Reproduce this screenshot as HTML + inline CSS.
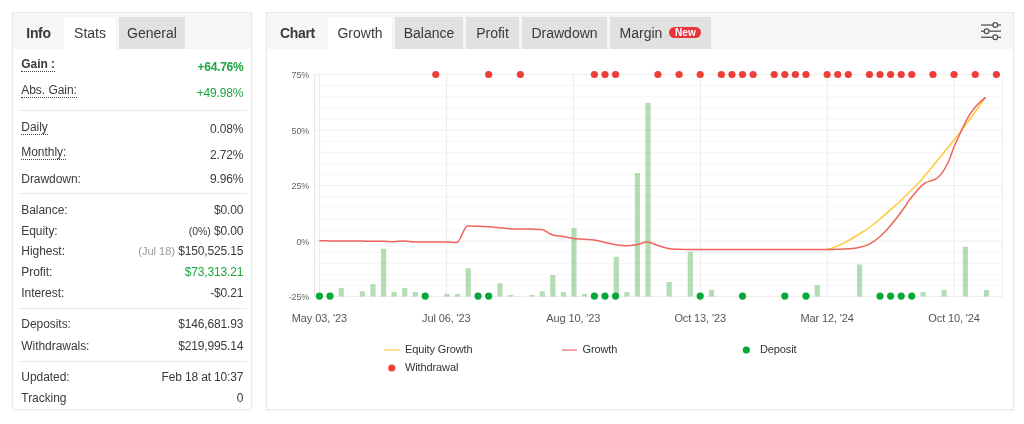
<!DOCTYPE html>
<html lang="en"><head><meta charset="utf-8"><title>Stats</title>
<style>
html,body{margin:0;padding:0;background:#fff;}
body{width:1024px;height:424px;position:relative;overflow:hidden;font-family:"Liberation Sans",Arial,sans-serif;color:#3a3a3a;}
.panel{position:absolute;background:#fff;border:1px solid #e9e9e9;box-sizing:border-box;box-shadow:0 1px 2px rgba(0,0,0,0.05);will-change:transform;}
#p1{left:12px;top:12px;width:240px;height:398px;}
#p2{left:266px;top:12px;width:748px;height:398px;}
.hd{position:absolute;left:0;top:0;right:0;height:36px;background:#f6f6f6;}
.tab{position:absolute;top:4px;height:32px;line-height:33px;font-size:14px;color:#3a3a3a;text-align:center;white-space:nowrap;}
.tab.t{font-weight:bold;letter-spacing:-0.35px;}
.tab.a{background:#fff;}
.tab.i{background:#e1e1e1;}
.l,.v{position:absolute;font-size:12px;line-height:16px;white-space:nowrap;color:#3a3a3a;}
.l{left:21px;}
.v{right:268px;}
#p1 .l{left:8.3px;letter-spacing:-0.05px;} #p1 .v{right:7.7px;letter-spacing:-0.15px;}
.b{font-weight:bold;}
.g{color:#18a63f !important;}
#p1 .v.b{letter-spacing:-0.28px;}
.u{border-bottom:1px dotted #444;height:15px;}
.sm{font-size:11px;letter-spacing:0;} .sm.p{font-size:10.5px;}
.gr{color:#999;}
.sep{position:absolute;left:6px;width:228px;height:1px;background:#e9e9e9;}
svg{position:absolute;left:0;top:0;will-change:transform;}
.yl{font-size:9px;letter-spacing:-0.2px;fill:#666;font-family:"Liberation Sans",Arial,sans-serif;}
.xl{font-size:11px;letter-spacing:-0.12px;fill:#555;font-family:"Liberation Sans",Arial,sans-serif;}
.lg{font-size:11px;letter-spacing:-0.12px;fill:#333;font-family:"Liberation Sans",Arial,sans-serif;}
.new{display:inline-block;vertical-align:middle;margin-left:7px;margin-top:-2px;background:#e8353c;color:#fff;font-weight:bold;font-size:10px;line-height:11.4px;height:11.4px;padding:0;width:32px;text-align:center;letter-spacing:0;border-radius:6px;position:relative;top:-0.5px;}
</style></head><body>
<div class="panel" id="p1">
<div class="hd"></div>
<div class="tab t" style="left:0;width:51px">Info</div>
<div class="tab a" style="left:51px;width:52px">Stats</div>
<div class="tab i" style="left:106px;width:66px">General</div>
<div class="sep" style="top:97px"></div><div class="sep" style="top:180px"></div><div class="sep" style="top:295px"></div><div class="sep" style="top:348px"></div>
<div class="l b u" style="top:43.00px">Gain :</div><div class="v b g" style="top:45.84px">+64.76%</div>
<div class="l u" style="top:69.00px">Abs. Gain:</div><div class="v g" style="top:72.14px">+49.98%</div>
<div class="l u" style="top:106.00px">Daily</div><div class="v " style="top:108.44px">0.08%</div>
<div class="l u" style="top:131.00px">Monthly:</div><div class="v " style="top:134.04px">2.72%</div>
<div class="l " style="top:157.94px">Drawdown:</div><div class="v " style="top:158.04px">9.96%</div>
<div class="l " style="top:188.84px">Balance:</div><div class="v " style="top:188.84px">$0.00</div>
<div class="l " style="top:209.84px">Equity:</div><div class="v " style="top:209.84px"><span class="sm p">(0%)</span> $0.00</div>
<div class="l " style="top:230.34px">Highest:</div><div class="v " style="top:230.34px"><span class="sm gr">(Jul 18)</span> $150,525.15</div>
<div class="l " style="top:251.34px">Profit:</div><div class="v g" style="top:251.34px">$73,313.21</div>
<div class="l " style="top:272.34px">Interest:</div><div class="v " style="top:272.34px">-$0.21</div>
<div class="l " style="top:303.44px">Deposits:</div><div class="v " style="top:303.44px">$146,681.93</div>
<div class="l " style="top:324.64px">Withdrawals:</div><div class="v " style="top:324.64px">$219,995.14</div>
<div class="l " style="top:355.84px">Updated:</div><div class="v " style="top:355.84px">Feb 18 at 10:37</div>
<div class="l " style="top:376.84px">Tracking</div><div class="v " style="top:376.84px">0</div>
</div>
<div class="panel" id="p2">
<div class="hd"></div>
<div class="tab t" style="left:0;width:61px">Chart</div>
<div class="tab a" style="left:61px;width:64px">Growth</div>
<div class="tab i" style="left:128px;width:68px">Balance</div>
<div class="tab i" style="left:199px;width:53px">Profit</div>
<div class="tab i" style="left:255px;width:85px">Drawdown</div>
<div class="tab i" style="left:343px;width:101px">Margin<span class="new">New</span></div>
</div>
<svg width="1024" height="424" viewBox="0 0 1024 424">
<line x1="314.5" x2="1002.5" y1="85.72" y2="85.72" stroke="#f6f6f6" stroke-width="1"/>
<line x1="314.5" x2="1002.5" y1="96.84" y2="96.84" stroke="#f6f6f6" stroke-width="1"/>
<line x1="314.5" x2="1002.5" y1="107.96" y2="107.96" stroke="#f6f6f6" stroke-width="1"/>
<line x1="314.5" x2="1002.5" y1="119.08" y2="119.08" stroke="#f6f6f6" stroke-width="1"/>
<line x1="314.5" x2="1002.5" y1="141.3" y2="141.3" stroke="#f6f6f6" stroke-width="1"/>
<line x1="314.5" x2="1002.5" y1="152.4" y2="152.4" stroke="#f6f6f6" stroke-width="1"/>
<line x1="314.5" x2="1002.5" y1="163.5" y2="163.5" stroke="#f6f6f6" stroke-width="1"/>
<line x1="314.5" x2="1002.5" y1="174.6" y2="174.6" stroke="#f6f6f6" stroke-width="1"/>
<line x1="314.5" x2="1002.5" y1="196.8" y2="196.8" stroke="#f6f6f6" stroke-width="1"/>
<line x1="314.5" x2="1002.5" y1="207.9" y2="207.9" stroke="#f6f6f6" stroke-width="1"/>
<line x1="314.5" x2="1002.5" y1="219.0" y2="219.0" stroke="#f6f6f6" stroke-width="1"/>
<line x1="314.5" x2="1002.5" y1="230.1" y2="230.1" stroke="#f6f6f6" stroke-width="1"/>
<line x1="314.5" x2="1002.5" y1="252.28" y2="252.28" stroke="#f6f6f6" stroke-width="1"/>
<line x1="314.5" x2="1002.5" y1="263.36" y2="263.36" stroke="#f6f6f6" stroke-width="1"/>
<line x1="314.5" x2="1002.5" y1="274.44" y2="274.44" stroke="#f6f6f6" stroke-width="1"/>
<line x1="314.5" x2="1002.5" y1="285.52" y2="285.52" stroke="#f6f6f6" stroke-width="1"/>
<line x1="314.5" x2="1002.5" y1="74.5" y2="74.5" stroke="#ededed" stroke-width="1"/>
<line x1="314.5" x2="1002.5" y1="130.1" y2="130.1" stroke="#ededed" stroke-width="1"/>
<line x1="314.5" x2="1002.5" y1="185.6" y2="185.6" stroke="#ededed" stroke-width="1"/>
<line x1="314.5" x2="1002.5" y1="241.1" y2="241.1" stroke="#ededed" stroke-width="1"/>
<line x1="314.5" x2="1002.5" y1="296.5" y2="296.5" stroke="#ededed" stroke-width="1"/>
<line x1="319.6" x2="319.6" y1="74.5" y2="296.5" stroke="#ededed" stroke-width="1"/>
<line x1="446.54" x2="446.54" y1="74.5" y2="296.5" stroke="#ededed" stroke-width="1"/>
<line x1="573.47" x2="573.47" y1="74.5" y2="296.5" stroke="#ededed" stroke-width="1"/>
<line x1="700.41" x2="700.41" y1="74.5" y2="296.5" stroke="#ededed" stroke-width="1"/>
<line x1="827.34" x2="827.34" y1="74.5" y2="296.5" stroke="#ededed" stroke-width="1"/>
<line x1="954.28" x2="954.28" y1="74.5" y2="296.5" stroke="#ededed" stroke-width="1"/>
<line x1="314.5" x2="314.5" y1="74.5" y2="296.5" stroke="#e6e6e6" stroke-width="1"/>
<line x1="1002.5" x2="1002.5" y1="74.5" y2="296.5" stroke="#ededed" stroke-width="1"/>
<rect x="338.66" y="288" width="5.2" height="8.50" fill="#4caf50" fill-opacity="0.42"/>
<rect x="359.81" y="291.25" width="5.2" height="5.25" fill="#4caf50" fill-opacity="0.42"/>
<rect x="370.39" y="284.25" width="5.2" height="12.25" fill="#4caf50" fill-opacity="0.42"/>
<rect x="380.97" y="248.75" width="5.2" height="47.75" fill="#4caf50" fill-opacity="0.42"/>
<rect x="391.55" y="292" width="5.2" height="4.50" fill="#4caf50" fill-opacity="0.42"/>
<rect x="402.12" y="288" width="5.2" height="8.50" fill="#4caf50" fill-opacity="0.42"/>
<rect x="412.70" y="292" width="5.2" height="4.50" fill="#4caf50" fill-opacity="0.42"/>
<rect x="444.44" y="294" width="5.2" height="2.50" fill="#4caf50" fill-opacity="0.42"/>
<rect x="455.01" y="294" width="5.2" height="2.50" fill="#4caf50" fill-opacity="0.42"/>
<rect x="465.59" y="268.25" width="5.2" height="28.25" fill="#4caf50" fill-opacity="0.42"/>
<rect x="497.33" y="283.25" width="5.2" height="13.25" fill="#4caf50" fill-opacity="0.42"/>
<rect x="507.90" y="295" width="5.2" height="1.50" fill="#4caf50" fill-opacity="0.42"/>
<rect x="529.06" y="295" width="5.2" height="1.50" fill="#4caf50" fill-opacity="0.42"/>
<rect x="539.64" y="291.25" width="5.2" height="5.25" fill="#4caf50" fill-opacity="0.42"/>
<rect x="550.22" y="275" width="5.2" height="21.50" fill="#4caf50" fill-opacity="0.42"/>
<rect x="560.79" y="292" width="5.2" height="4.50" fill="#4caf50" fill-opacity="0.42"/>
<rect x="571.37" y="228" width="5.2" height="68.50" fill="#4caf50" fill-opacity="0.42"/>
<rect x="581.95" y="294" width="5.2" height="2.50" fill="#4caf50" fill-opacity="0.42"/>
<rect x="613.68" y="256.75" width="5.2" height="39.75" fill="#4caf50" fill-opacity="0.42"/>
<rect x="624.26" y="292" width="5.2" height="4.50" fill="#4caf50" fill-opacity="0.42"/>
<rect x="634.84" y="173" width="5.2" height="123.50" fill="#4caf50" fill-opacity="0.42"/>
<rect x="645.42" y="103" width="5.2" height="193.50" fill="#4caf50" fill-opacity="0.42"/>
<rect x="666.57" y="282" width="5.2" height="14.50" fill="#4caf50" fill-opacity="0.42"/>
<rect x="687.73" y="251.75" width="5.2" height="44.75" fill="#4caf50" fill-opacity="0.42"/>
<rect x="708.89" y="290" width="5.2" height="6.50" fill="#4caf50" fill-opacity="0.42"/>
<rect x="814.67" y="285" width="5.2" height="11.50" fill="#4caf50" fill-opacity="0.42"/>
<rect x="856.98" y="264.5" width="5.2" height="32.00" fill="#4caf50" fill-opacity="0.42"/>
<rect x="920.45" y="292" width="5.2" height="4.50" fill="#4caf50" fill-opacity="0.42"/>
<rect x="941.60" y="290" width="5.2" height="6.50" fill="#4caf50" fill-opacity="0.42"/>
<rect x="962.76" y="246.75" width="5.2" height="49.75" fill="#4caf50" fill-opacity="0.42"/>
<rect x="983.91" y="290" width="5.2" height="6.50" fill="#4caf50" fill-opacity="0.42"/>
<path d="M827.14,249.50C830.67,249.50 834.20,247.37 837.72,245.90C841.25,244.43 844.77,242.63 848.30,240.70C851.83,238.77 855.35,236.50 858.88,234.30C862.40,232.10 865.93,230.05 869.46,227.50C872.98,224.95 876.51,221.97 880.03,219.00C883.56,216.03 887.09,212.83 890.61,209.70C894.14,206.57 897.66,203.53 901.19,200.20C904.72,196.87 908.24,193.28 911.77,189.70C915.29,186.12 918.82,182.65 922.35,178.70C925.87,174.75 929.40,170.27 932.92,166.00C936.45,161.73 939.98,157.43 943.50,153.10C947.03,148.77 950.55,144.50 954.08,140.00C957.61,135.50 961.13,130.82 964.66,126.10C968.18,121.38 971.71,116.59 975.24,111.70C978.66,106.95 982.08,102.03 985.50,97.20" fill="none" stroke="#fcca3a" stroke-width="1.5"/>
<path d="M319.40,240.75C322.93,240.80 326.45,240.86 329.98,240.90C333.50,240.94 337.03,241.00 340.56,241.00C344.08,241.00 347.61,241.00 351.13,241.00C354.66,241.00 358.19,241.07 361.71,241.10C365.24,241.13 368.76,241.17 372.29,241.20C375.82,241.22 379.34,241.20 382.87,241.25C386.39,241.30 389.92,241.70 393.45,241.70C396.97,241.70 400.50,241.00 404.02,241.00C407.55,241.00 411.08,242.00 414.60,242.00C418.13,242.00 421.65,242.00 425.18,242.00C428.71,242.00 432.23,242.00 435.76,242.00C439.28,242.00 442.81,242.00 446.34,242.00C449.86,242.00 453.39,242.50 456.91,242.50C460.44,242.50 463.97,226.00 467.49,226.00C471.02,226.00 474.54,226.12 478.07,226.25C481.60,226.38 485.12,226.56 488.65,226.80C492.17,227.04 495.70,227.38 499.23,227.70C502.75,228.02 506.28,228.48 509.80,228.70C513.33,228.92 516.86,228.93 520.38,229.00C523.91,229.07 527.43,229.03 530.96,229.10C534.49,229.17 538.01,229.10 541.54,229.40C545.06,229.70 548.59,233.62 552.12,234.80C555.64,235.98 559.17,235.88 562.69,236.50C566.22,237.12 569.75,238.05 573.27,238.50C576.80,238.95 580.32,238.95 583.85,239.20C587.38,239.45 590.90,239.45 594.43,240.00C597.95,240.55 601.48,241.72 605.01,242.50C608.53,243.28 612.06,244.17 615.58,244.70C619.11,245.23 622.64,245.70 626.16,245.70C629.69,245.70 633.21,245.32 636.74,244.70C640.27,244.08 643.79,242.00 647.32,242.00C650.84,242.00 654.37,244.42 657.90,245.50C661.42,246.58 664.95,247.87 668.47,248.50C672.00,249.13 675.53,249.13 679.05,249.30C682.58,249.47 686.10,249.50 689.63,249.50C693.16,249.50 696.68,249.50 700.21,249.50C703.73,249.50 707.26,249.50 710.79,249.50C714.31,249.50 717.84,249.50 721.36,249.50C724.89,249.50 728.42,249.50 731.94,249.50C735.47,249.50 738.99,249.50 742.52,249.50C746.05,249.50 749.57,249.50 753.10,249.50C756.62,249.50 760.15,249.50 763.68,249.50C767.20,249.50 770.73,249.50 774.25,249.50C777.78,249.50 781.31,249.50 784.83,249.50C788.36,249.50 791.88,249.50 795.41,249.50C798.94,249.50 802.46,249.50 805.99,249.50C809.51,249.50 813.04,249.50 816.57,249.50C820.09,249.50 823.62,249.50 827.14,249.50C830.67,249.50 834.20,249.42 837.72,249.30C841.25,249.18 844.77,249.10 848.30,248.80C851.83,248.50 855.35,248.28 858.88,247.50C862.40,246.72 865.93,245.93 869.46,244.10C872.98,242.27 876.51,239.60 880.03,236.50C883.56,233.40 887.09,229.58 890.61,225.50C894.14,221.42 897.66,216.77 901.19,212.00C904.63,207.35 908.06,201.66 911.50,197.30C913.27,195.06 915.03,193.00 916.80,191.00C918.53,189.04 920.27,186.91 922.00,185.40C923.30,184.27 924.60,183.32 925.90,182.60C927.47,181.73 929.03,181.46 930.60,180.90C932.20,180.33 933.80,180.15 935.40,179.20C936.57,178.51 937.73,177.63 938.90,176.50C940.07,175.37 941.23,174.04 942.40,172.40C943.60,170.72 944.80,168.74 946.00,166.50C947.17,164.32 948.33,161.97 949.50,159.20C950.93,155.80 952.37,151.11 953.80,147.50C956.07,141.78 958.33,137.39 960.60,132.50C962.80,127.76 965.00,122.59 967.20,118.60C970.33,112.92 973.47,109.12 976.60,105.50C979.57,102.07 982.53,99.97 985.50,97.20" fill="none" stroke="#ef655c" stroke-width="1.5"/>
<circle cx="435.76" cy="74.5" r="3.6" fill="#ed3f38"/>
<circle cx="488.65" cy="74.5" r="3.6" fill="#ed3f38"/>
<circle cx="520.38" cy="74.5" r="3.6" fill="#ed3f38"/>
<circle cx="594.43" cy="74.5" r="3.6" fill="#ed3f38"/>
<circle cx="605.01" cy="74.5" r="3.6" fill="#ed3f38"/>
<circle cx="615.58" cy="74.5" r="3.6" fill="#ed3f38"/>
<circle cx="657.90" cy="74.5" r="3.6" fill="#ed3f38"/>
<circle cx="679.05" cy="74.5" r="3.6" fill="#ed3f38"/>
<circle cx="700.21" cy="74.5" r="3.6" fill="#ed3f38"/>
<circle cx="721.36" cy="74.5" r="3.6" fill="#ed3f38"/>
<circle cx="731.94" cy="74.5" r="3.6" fill="#ed3f38"/>
<circle cx="742.52" cy="74.5" r="3.6" fill="#ed3f38"/>
<circle cx="753.10" cy="74.5" r="3.6" fill="#ed3f38"/>
<circle cx="774.25" cy="74.5" r="3.6" fill="#ed3f38"/>
<circle cx="784.83" cy="74.5" r="3.6" fill="#ed3f38"/>
<circle cx="795.41" cy="74.5" r="3.6" fill="#ed3f38"/>
<circle cx="805.99" cy="74.5" r="3.6" fill="#ed3f38"/>
<circle cx="827.14" cy="74.5" r="3.6" fill="#ed3f38"/>
<circle cx="837.72" cy="74.5" r="3.6" fill="#ed3f38"/>
<circle cx="848.30" cy="74.5" r="3.6" fill="#ed3f38"/>
<circle cx="869.46" cy="74.5" r="3.6" fill="#ed3f38"/>
<circle cx="880.03" cy="74.5" r="3.6" fill="#ed3f38"/>
<circle cx="890.61" cy="74.5" r="3.6" fill="#ed3f38"/>
<circle cx="901.19" cy="74.5" r="3.6" fill="#ed3f38"/>
<circle cx="911.77" cy="74.5" r="3.6" fill="#ed3f38"/>
<circle cx="932.92" cy="74.5" r="3.6" fill="#ed3f38"/>
<circle cx="954.08" cy="74.5" r="3.6" fill="#ed3f38"/>
<circle cx="975.24" cy="74.5" r="3.6" fill="#ed3f38"/>
<circle cx="996.39" cy="74.5" r="3.6" fill="#ed3f38"/>
<circle cx="319.40" cy="296.1" r="3.6" fill="#07a83a"/>
<circle cx="329.98" cy="296.1" r="3.6" fill="#07a83a"/>
<circle cx="425.18" cy="296.1" r="3.6" fill="#07a83a"/>
<circle cx="478.07" cy="296.1" r="3.6" fill="#07a83a"/>
<circle cx="488.65" cy="296.1" r="3.6" fill="#07a83a"/>
<circle cx="594.43" cy="296.1" r="3.6" fill="#07a83a"/>
<circle cx="605.01" cy="296.1" r="3.6" fill="#07a83a"/>
<circle cx="615.58" cy="296.1" r="3.6" fill="#07a83a"/>
<circle cx="700.21" cy="296.1" r="3.6" fill="#07a83a"/>
<circle cx="742.52" cy="296.1" r="3.6" fill="#07a83a"/>
<circle cx="784.83" cy="296.1" r="3.6" fill="#07a83a"/>
<circle cx="805.99" cy="296.1" r="3.6" fill="#07a83a"/>
<circle cx="880.03" cy="296.1" r="3.6" fill="#07a83a"/>
<circle cx="890.61" cy="296.1" r="3.6" fill="#07a83a"/>
<circle cx="901.19" cy="296.1" r="3.6" fill="#07a83a"/>
<circle cx="911.77" cy="296.1" r="3.6" fill="#07a83a"/>
<text x="309" y="77.9" text-anchor="end" class="yl">75%</text>
<text x="309" y="133.5" text-anchor="end" class="yl">50%</text>
<text x="309" y="189.0" text-anchor="end" class="yl">25%</text>
<text x="309" y="244.5" text-anchor="end" class="yl">0%</text>
<text x="309" y="299.9" text-anchor="end" class="yl">-25%</text>
<text x="319.4" y="322" text-anchor="middle" class="xl">May 03, '23</text>
<text x="446.3" y="322" text-anchor="middle" class="xl">Jul 06, '23</text>
<text x="573.3" y="322" text-anchor="middle" class="xl">Aug 10, '23</text>
<text x="700.2" y="322" text-anchor="middle" class="xl">Oct 13, '23</text>
<text x="827.1" y="322" text-anchor="middle" class="xl">Mar 12, '24</text>
<text x="954.1" y="322" text-anchor="middle" class="xl">Oct 10, '24</text>
<line x1="384.5" x2="399.5" y1="350" y2="350" stroke="#fcca3a" stroke-width="1.15"/>
<text x="405" y="353.3" class="lg">Equity Growth</text>
<line x1="562" x2="577" y1="350" y2="350" stroke="#ef655c" stroke-width="1.15"/>
<text x="582.5" y="353.3" class="lg">Growth</text>
<circle cx="746.3" cy="350" r="3.6" fill="#07a83a"/>
<text x="760" y="353.3" class="lg">Deposit</text>
<circle cx="391.8" cy="368" r="3.6" fill="#ed3f38"/>
<text x="405" y="371.3" class="lg">Withdrawal</text>
<g stroke="#555" stroke-width="1.3" fill="#f6f6f6">
<line x1="981" x2="1001" y1="25" y2="25"/><line x1="981" x2="1001" y1="31.2" y2="31.2"/><line x1="981" x2="1001" y1="37.3" y2="37.3"/>
<circle cx="995.3" cy="25" r="2.4"/><circle cx="986.6" cy="31.2" r="2.4"/><circle cx="995.3" cy="37.3" r="2.4"/></g>
</svg>
</body></html>
